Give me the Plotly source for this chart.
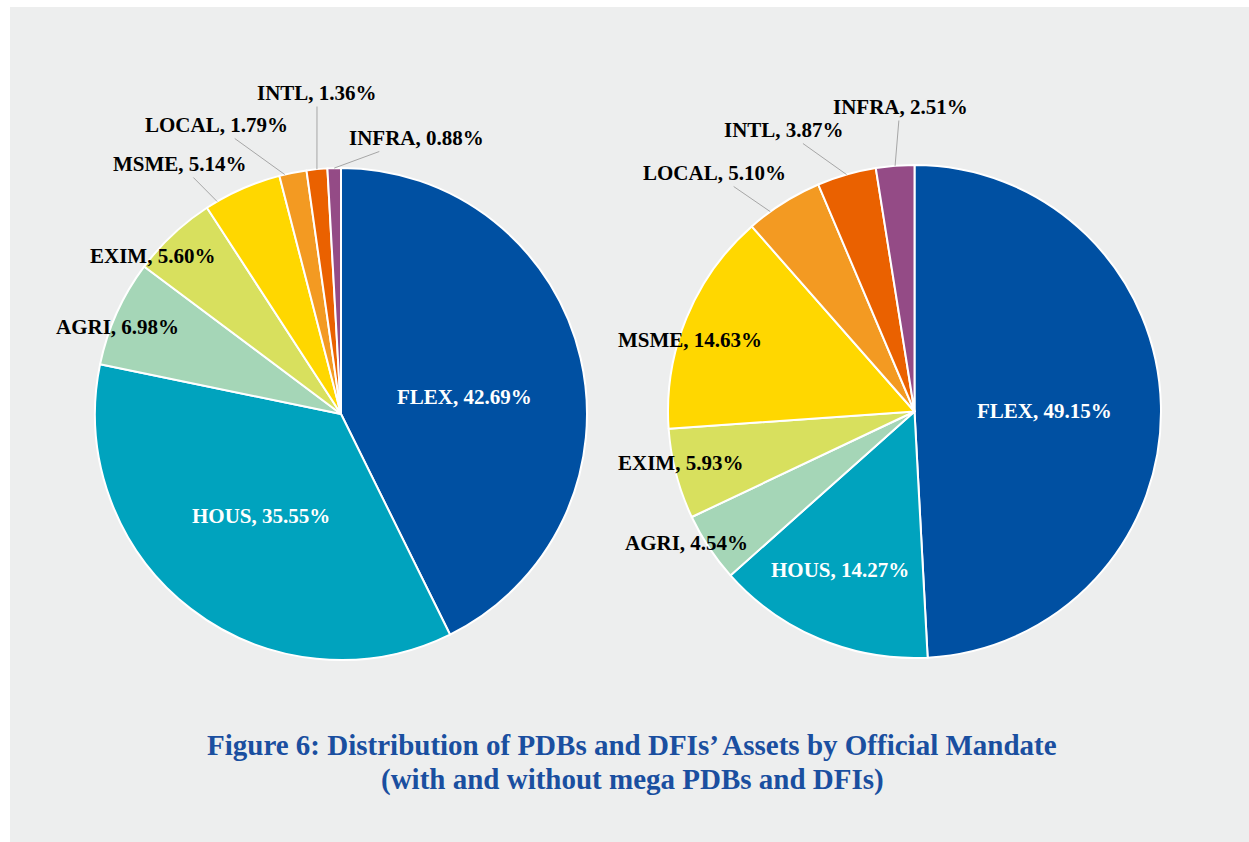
import math
import plotly.graph_objects as go

# ---- data ----
mandates = ["FLEX", "HOUS", "AGRI", "EXIM", "MSME", "LOCAL", "INTL", "INFRA"]
share_all = [42.69, 35.55, 6.98, 5.60, 5.14, 1.79, 1.36, 0.88]
share_no_mega = [49.15, 14.27, 4.54, 5.93, 14.63, 5.10, 3.87, 2.51]
colors = ["#0050A2", "#00A3BE", "#A5D6B7", "#D8E05E", "#FFD700", "#F39A22", "#EA6100", "#944B86"]
title_lines = ["Figure 6: Distribution of PDBs and DFIs\u2019 Assets by Official Mandate",
               "(with and without mega PDBs and DFIs)"]

# ---- layout constants (pixels) ----
W, H = 1249, 842
FONT = "Liberation Serif"
# label: (text x, text y, kind, leader-line anchor position within the slice 0..1)
pies = [
    dict(values=share_all, cx=341, cy=414, r=246,
         labels_px={"FLEX": (465, 397, "white", 0), "HOUS": (261, 516, "white", 0),
                    "AGRI": (117, 327, None, 0), "EXIM": (152, 256, None, 0),
                    "MSME": (180, 164, "line", 0.15), "LOCAL": (216, 125, "line", 0.2),
                    "INTL": (317, 93, "line", 0.5), "INFRA": (416, 138, "line", 0.5)}),
    dict(values=share_no_mega, cx=914.5, cy=411.5, r=246.5,
         labels_px={"FLEX": (1044, 411, "white", 0), "HOUS": (840, 570, "white", 0),
                    "AGRI": (686, 543, None, 0), "EXIM": (680, 463, None, 0),
                    "MSME": (690, 340, None, 0), "LOCAL": (714, 173, "line", 0.3),
                    "INTL": (784, 130, "line", 0.5), "INFRA": (900, 107, "line", 0.5)}),
]
title_y_px = [745, 779]

fig = go.Figure()
annotations = []
for p in pies:
    cx, cy, r = p["cx"], p["cy"], p["r"]
    fig.add_trace(go.Pie(
        labels=mandates, values=p["values"], sort=False, direction="clockwise",
        rotation=0, marker=dict(colors=colors, line=dict(color="white", width=2)),
        textinfo="none", showlegend=False, hoverinfo="label+value",
        domain=dict(x=[(cx - r) / W, (cx + r) / W], y=[1 - (cy + r) / H, 1 - (cy - r) / H]),
    ))
    total = sum(p["values"])
    cum = 0.0
    for lab, v in zip(mandates, p["values"]):
        tx, ty, kind, frac = p["labels_px"][lab]
        ang = (cum + v * frac) / total * 2 * math.pi
        cum += v
        text = f"<b>{lab}, {v:.2f}%</b>"
        color = "white" if kind == "white" else "black"
        ann = dict(text=text, xref="paper", yref="paper", xanchor="center", yanchor="middle",
                   font=dict(family=FONT, size=21, color=color))
        if kind == "line":
            px = cx + r * math.sin(ang)
            py = cy - r * math.cos(ang)
            ann.update(x=px / W, y=1 - py / H, ax=tx - px, ay=ty - py,
                       showarrow=True, arrowhead=0, arrowwidth=1, arrowcolor="#A6A6A6",
                       standoff=0)
        else:
            ann.update(x=tx / W, y=1 - ty / H, showarrow=False)
        annotations.append(ann)

for line, ypx in zip(title_lines, title_y_px):
    annotations.append(dict(text=f"<b>{line}</b>", xref="paper", yref="paper",
                            x=632 / W, y=1 - ypx / H, xanchor="center", yanchor="middle",
                            showarrow=False,
                            font=dict(family=FONT, size=29, color="#1A4FA0")))

fig.update_layout(
    width=W, height=H, margin=dict(l=0, r=0, t=0, b=0),
    paper_bgcolor="white", plot_bgcolor="white",
    annotations=annotations,
    shapes=[dict(type="rect", xref="paper", yref="paper", x0=10 / W, x1=1.01, y0=-0.01,
                 y1=1 - 7 / H, fillcolor="#EDEEEE", line=dict(width=0), layer="below")],
)
fig.write_html("out.html", config={"displayModeBar": False},
               post_script="document.body.style.margin='0';")
